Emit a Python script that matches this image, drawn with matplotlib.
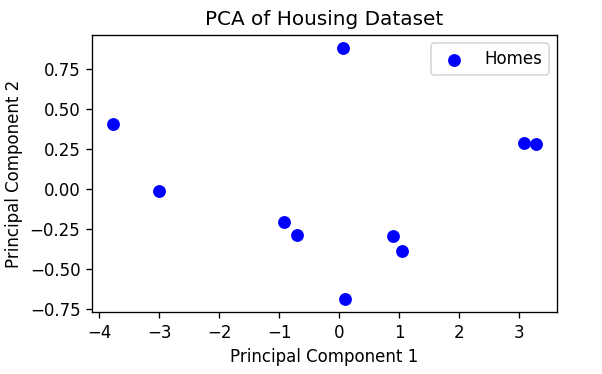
import matplotlib
matplotlib.use("Agg")
import matplotlib.pyplot as plt
import numpy as np

# principal component scores
pc1 = [-3.77, -3.01, -0.93, -0.705, 0.057, 0.09, 0.898, 1.04, 3.08, 3.275]
pc2 = [0.411, -0.009, -0.203, -0.286, 0.886, -0.69, -0.295, -0.39, 0.29, 0.282]

dpi = 120
fig = plt.figure(figsize=(602 / dpi, 374 / dpi), dpi=dpi)
ax = fig.add_axes([0.153, 0.166, 0.772, 0.740])

ax.scatter(np.array(pc1), np.array(pc2), c="blue", s=45, label="Homes")
ax.set_title("PCA of Housing Dataset")
ax.set_xlabel("Principal Component 1")
ax.set_ylabel("Principal Component 2")
ax.set_xticks([-4, -3, -2, -1, 0, 1, 2, 3])
ax.set_yticks([-0.75, -0.5, -0.25, 0.0, 0.25, 0.5, 0.75])
ax.legend(loc="upper right")

fig.savefig("out.png", dpi=dpi)
plt.close()
